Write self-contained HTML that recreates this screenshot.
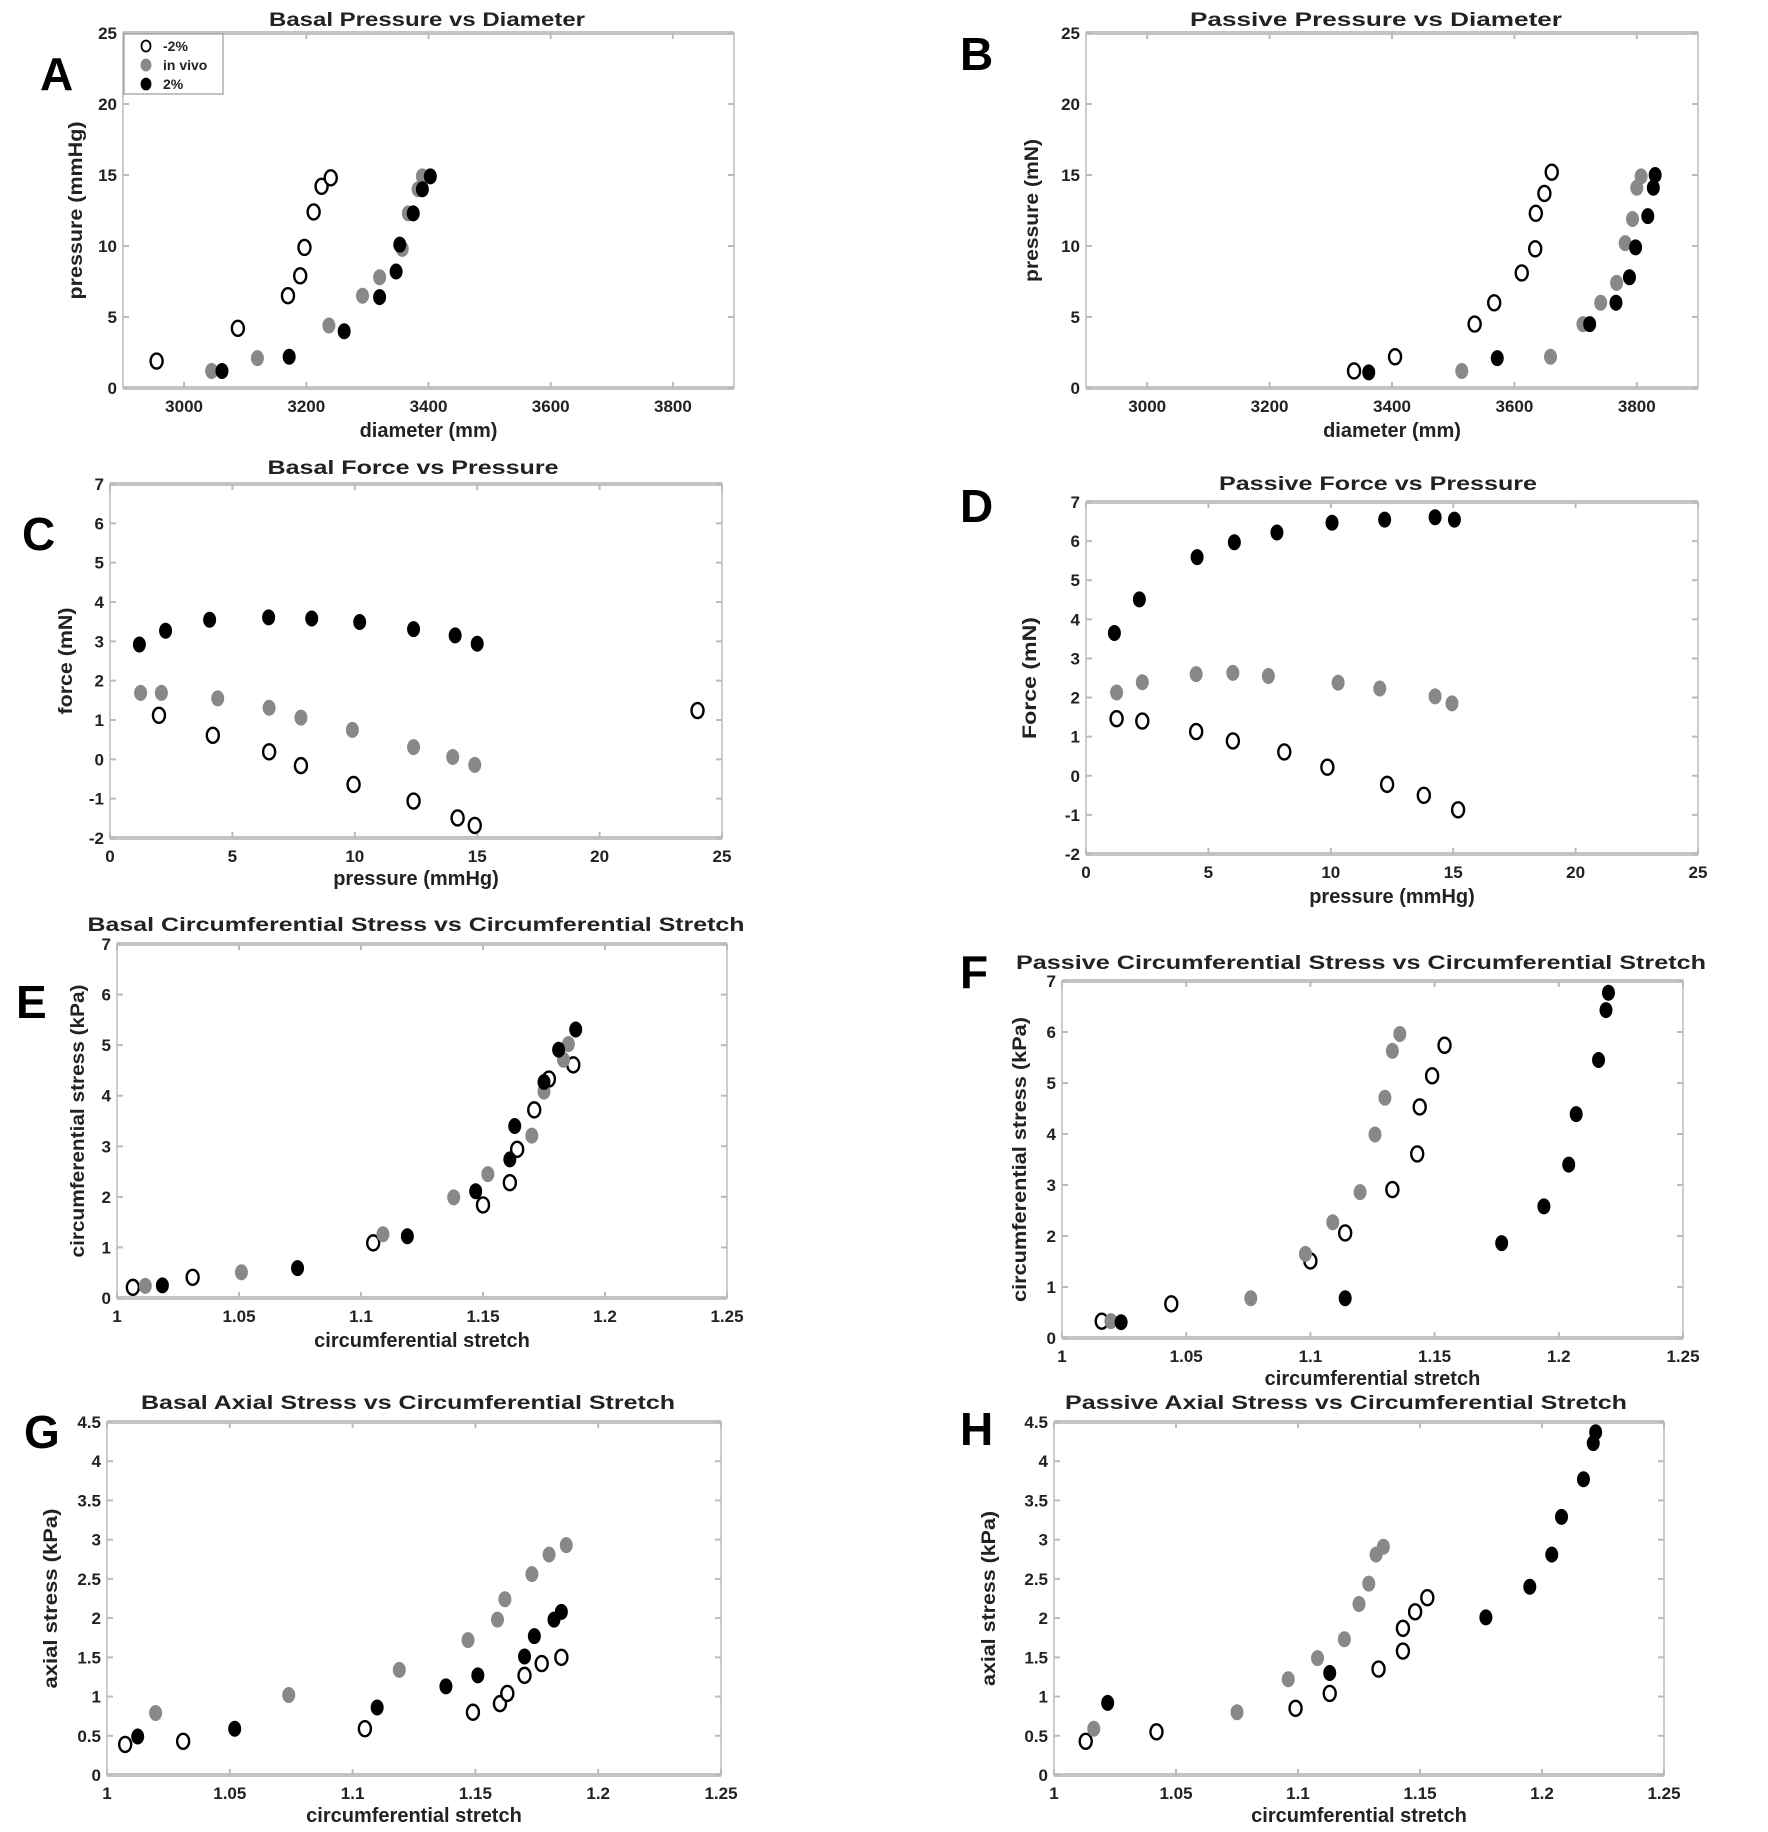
<!DOCTYPE html>
<html><head><meta charset="utf-8"><style>
html,body{margin:0;padding:0;background:#fff;}
svg{display:block;}
</style></head><body>
<svg id="fig" width="1768" height="1832" viewBox="0 0 1768 1832" xmlns="http://www.w3.org/2000/svg" font-family="Liberation Sans, sans-serif"></svg>
<script>
// ---- Data (series per panel) ----
const aOpenX=[2955,3088,3170,3190,3197,3212,3225,3240];
const aOpenY=[1.9,4.2,6.5,7.9,9.9,12.4,14.2,14.8];
const aGrayX=[3045,3120,3237,3292,3320,3357,3367,3383,3390];
const aGrayY=[1.2,2.1,4.4,6.5,7.8,9.8,12.3,14.0,14.9];
const aBlackX=[3062,3172,3262,3320,3347,3353,3375,3390,3403];
const aBlackY=[1.2,2.2,4.0,6.4,8.2,10.1,12.3,14.0,14.9];

const bOpenX=[3338,3405,3535,3567,3612,3634,3635,3649,3661];
const bOpenY=[1.2,2.2,4.5,6.0,8.1,9.8,12.3,13.7,15.2];
const bGrayX=[3514,3659,3712,3741,3767,3781,3793,3800,3807];
const bGrayY=[1.2,2.2,4.5,6.0,7.4,10.2,11.9,14.1,14.9];
const bBlackX=[3362,3572,3723,3766,3788,3798,3818,3827,3830];
const bBlackY=[1.1,2.1,4.5,6.0,7.8,9.9,12.1,14.1,15.0];

const cOpenX=[2.0,4.2,6.5,7.8,9.95,12.4,14.2,14.9,24.0];
const cOpenY=[1.12,0.61,0.19,-0.16,-0.64,-1.06,-1.49,-1.68,1.24];
const cGrayX=[1.25,2.1,4.4,6.5,7.8,9.9,12.4,14.0,14.9];
const cGrayY=[1.69,1.69,1.55,1.31,1.06,0.75,0.31,0.06,-0.14];
const cBlackX=[1.2,2.27,4.07,6.48,8.24,10.2,12.4,14.1,15.0];
const cBlackY=[2.92,3.27,3.55,3.61,3.58,3.49,3.31,3.15,2.94];

const dOpenX=[1.25,2.3,4.5,6.0,8.1,9.86,12.3,13.8,15.2];
const dOpenY=[1.46,1.40,1.13,0.89,0.61,0.22,-0.22,-0.50,-0.87];
const dGrayX=[1.25,2.3,4.5,6.0,7.45,10.3,12.0,14.26,14.95];
const dGrayY=[2.13,2.39,2.60,2.63,2.55,2.38,2.23,2.03,1.85];
const dBlackX=[1.16,2.18,4.54,6.06,7.8,10.05,12.2,14.26,15.05];
const dBlackY=[3.65,4.51,5.59,5.97,6.22,6.47,6.55,6.61,6.55];

const eOpenX=[1.0065,1.031,1.105,1.150,1.161,1.164,1.171,1.177,1.187];
const eOpenY=[0.21,0.41,1.09,1.84,2.28,2.94,3.72,4.33,4.61];
const eGrayX=[1.0116,1.051,1.109,1.138,1.152,1.170,1.175,1.183,1.185];
const eGrayY=[0.24,0.51,1.26,1.99,2.45,3.21,4.08,4.71,5.02];
const eBlackX=[1.0186,1.074,1.119,1.147,1.161,1.163,1.175,1.181,1.188];
const eBlackY=[0.25,0.59,1.22,2.11,2.74,3.40,4.27,4.91,5.31];

const fOpenX=[1.016,1.044,1.100,1.114,1.133,1.143,1.144,1.149,1.154];
const fOpenY=[0.33,0.67,1.51,2.06,2.91,3.61,4.53,5.14,5.74];
const fGrayX=[1.0197,1.076,1.098,1.109,1.120,1.126,1.130,1.133,1.136];
const fGrayY=[0.33,0.78,1.65,2.27,2.86,3.99,4.71,5.63,5.96];
const fBlackX=[1.0238,1.114,1.177,1.194,1.204,1.207,1.216,1.219,1.220];
const fBlackY=[0.31,0.78,1.86,2.58,3.40,4.39,5.45,6.43,6.77];

const gOpenX=[1.0074,1.031,1.105,1.149,1.160,1.163,1.170,1.177,1.185];
const gOpenY=[0.39,0.43,0.59,0.80,0.91,1.04,1.27,1.42,1.50];
const gGrayX=[1.0198,1.074,1.119,1.147,1.159,1.162,1.173,1.180,1.187];
const gGrayY=[0.79,1.02,1.34,1.72,1.98,2.24,2.56,2.81,2.93];
const gBlackX=[1.0125,1.052,1.110,1.138,1.151,1.170,1.174,1.182,1.185];
const gBlackY=[0.49,0.59,0.86,1.13,1.27,1.51,1.77,1.98,2.08];

const hOpenX=[1.013,1.042,1.099,1.113,1.133,1.143,1.143,1.148,1.153];
const hOpenY=[0.43,0.55,0.85,1.04,1.35,1.58,1.87,2.08,2.26];
const hGrayX=[1.0163,1.075,1.096,1.108,1.119,1.125,1.129,1.132,1.135];
const hGrayY=[0.59,0.80,1.22,1.49,1.73,2.18,2.44,2.81,2.91];
const hBlackX=[1.022,1.113,1.177,1.195,1.204,1.208,1.217,1.221,1.222];
const hBlackY=[0.92,1.30,2.01,2.40,2.81,3.29,3.77,4.23,4.37];

// tick label arrays
const diamTicks=["3000","3200","3400","3600","3800"];
const pressTicksY=["0","5","10","15","20","25"];
const pressTicksX=["0","5","10","15","20","25"];
const forceTicks=["-2","-1","0","1","2","3","4","5","6","7"];
const stressTicks=["0","1","2","3","4","5","6","7"];
const stretchTicks=["1","1.05","1.1","1.15","1.2","1.25"];
const axialTicks=["0","0.5","1","1.5","2","2.5","3","3.5","4","4.5"];

const NS="http://www.w3.org/2000/svg";
const svg=document.getElementById('fig');
function el(tag,attrs,parent){const e=document.createElementNS(NS,tag);for(const k in attrs)e.setAttribute(k,attrs[k]);(parent||svg).appendChild(e);return e;}

const panels=[
 {id:'a',L:123,R:734,T:33,B:388,xmin:2900,xmax:3900,ymin:0,ymax:25,xt:diamTicks,yt:pressTicksY,
  title:'Basal Pressure vs Diameter',tx:427,ty:26,tw:316,xl:'diameter (mm)',xly:437,yl:'pressure (mmHg)',ylx:76,ylw:178,
  letter:'A',lx:40,ly:90,s:[[aOpenX,aOpenY],[aGrayX,aGrayY],[aBlackX,aBlackY]],legend:true},
 {id:'b',L:1086,R:1698,T:33,B:388,xmin:2900,xmax:3900,ymin:0,ymax:25,xt:diamTicks,yt:pressTicksY,
  title:'Passive Pressure vs Diameter',tx:1376,ty:26,tw:372,xl:'diameter (mm)',xly:437,yl:'pressure (mN)',ylx:1032,ylw:143,
  letter:'B',lx:960,ly:70,s:[[bOpenX,bOpenY],[bGrayX,bGrayY],[bBlackX,bBlackY]]},
 {id:'c',L:110,R:722,T:484,B:838,xmin:0,xmax:25,ymin:-2,ymax:7,xt:pressTicksX,yt:forceTicks,
  title:'Basal Force vs Pressure',tx:413,ty:474,tw:291,xl:'pressure (mmHg)',xly:885,yl:'force (mN)',ylx:66,ylw:107,
  letter:'C',lx:22,ly:550,s:[[cOpenX,cOpenY],[cGrayX,cGrayY],[cBlackX,cBlackY]]},
 {id:'d',L:1086,R:1698,T:502,B:854,xmin:0,xmax:25,ymin:-2,ymax:7,xt:pressTicksX,yt:forceTicks,
  title:'Passive Force vs Pressure',tx:1378,ty:490,tw:318,xl:'pressure (mmHg)',xly:903,yl:'Force (mN)',ylx:1030,ylw:122,
  letter:'D',lx:960,ly:522,s:[[dOpenX,dOpenY],[dGrayX,dGrayY],[dBlackX,dBlackY]]},
 {id:'e',L:117,R:727,T:944,B:1298,xmin:1,xmax:1.25,ymin:0,ymax:7,xt:stretchTicks,yt:stressTicks,
  title:'Basal Circumferential Stress vs Circumferential Stretch',tx:416,ty:931,tw:657,xl:'circumferential stretch',xly:1347,yl:'circumferential stress (kPa)',ylx:78,ylw:273,
  letter:'E',lx:16,ly:1018,s:[[eOpenX,eOpenY],[eGrayX,eGrayY],[eBlackX,eBlackY]]},
 {id:'f',L:1062,R:1683,T:981,B:1338,xmin:1,xmax:1.25,ymin:0,ymax:7,xt:stretchTicks,yt:stressTicks,
  title:'Passive Circumferential Stress vs Circumferential Stretch',tx:1361,ty:969,tw:690,xl:'circumferential stretch',xly:1385,yl:'circumferential stress (kPa)',ylx:1020,ylw:285,
  letter:'F',lx:960,ly:988,s:[[fOpenX,fOpenY],[fGrayX,fGrayY],[fBlackX,fBlackY]]},
 {id:'g',L:107,R:721,T:1422,B:1775,xmin:1,xmax:1.25,ymin:0,ymax:4.5,xt:stretchTicks,yt:axialTicks,
  title:'Basal Axial Stress vs Circumferential Stretch',tx:408,ty:1409,tw:534,xl:'circumferential stretch',xly:1822,yl:'axial stress (kPa)',ylx:51,ylw:180,
  letter:'G',lx:24,ly:1448,s:[[gOpenX,gOpenY],[gGrayX,gGrayY],[gBlackX,gBlackY]]},
 {id:'h',L:1054,R:1664,T:1422,B:1775,xmin:1,xmax:1.25,ymin:0,ymax:4.5,xt:stretchTicks,yt:axialTicks,
  title:'Passive Axial Stress vs Circumferential Stretch',tx:1346,ty:1409,tw:562,xl:'circumferential stretch',xly:1822,yl:'axial stress (kPa)',ylx:989,ylw:175,
  letter:'H',lx:960,ly:1445,s:[[hOpenX,hOpenY],[hGrayX,hGrayY],[hBlackX,hBlackY]]}
];
const styles=[{fill:'#fff',stroke:'#000',sw:2.4},{fill:'#888',stroke:'#888',sw:1},{fill:'#000',stroke:'#000',sw:1}];
const seriesNames=['minus-2pct','in-vivo','plus-2pct'];

panels.forEach(p=>{
  const g=el('g',{});
  
  
  const xs=v=>p.L+(v-p.xmin)/(p.xmax-p.xmin)*(p.R-p.L);
  const ys=v=>p.B-(v-p.ymin)/(p.ymax-p.ymin)*(p.B-p.T);
  // frame
  const fr=el('rect',{x:p.L,y:p.T,width:p.R-p.L,height:p.B-p.T,fill:'none',stroke:'#bbb','stroke-width':1.5},g);
  
  
  el('line',{x1:p.L,x2:p.R,y1:p.T,y2:p.T,stroke:'#c4c4c4','stroke-width':4},g);
  el('line',{x1:p.L,x2:p.R,y1:p.B,y2:p.B,stroke:'#c4c4c4','stroke-width':4},g);
  // x ticks
  p.xt.forEach(t=>{
    const x=xs(parseFloat(t));
    el('line',{x1:x,x2:x,y1:p.B,y2:p.B-6,stroke:'#bbb','stroke-width':2},g);
    el('line',{x1:x,x2:x,y1:p.T,y2:p.T+6,stroke:'#bbb','stroke-width':2},g);
    const tx=el('text',{x:x,y:p.B+24,'text-anchor':'middle','font-size':17,'font-weight':'bold',fill:'#222'},g);
    tx.textContent=t;
    
    
  });
  p.yt.forEach(t=>{
    const y=ys(parseFloat(t));
    el('line',{x1:p.L,x2:p.L+6,y1:y,y2:y,stroke:'#bbb','stroke-width':2},g);
    el('line',{x1:p.R,x2:p.R-6,y1:y,y2:y,stroke:'#bbb','stroke-width':2},g);
    const ty=el('text',{x:p.L-6,y:y+6,'text-anchor':'end','font-size':17,'font-weight':'bold',fill:'#222'},g);
    ty.textContent=t;
    
    
  });
  const ti=el('text',{x:p.tx,y:p.ty,'text-anchor':'middle','font-size':19,'font-weight':'bold',fill:'#222',textLength:p.tw,lengthAdjust:'spacingAndGlyphs'},g);
  ti.textContent=p.title;
  
  
  const xl=el('text',{x:(p.L+p.R)/2,y:p.xly,'text-anchor':'middle','font-size':20,'font-weight':'bold',fill:'#222'},g);
  xl.textContent=p.xl;
  
  
  const cy=(p.T+p.B)/2;
  const yl=el('text',{x:p.ylx,y:cy,'text-anchor':'middle','font-size':19,'font-weight':'bold',fill:'#222',transform:'rotate(-90 '+p.ylx+' '+cy+')',textLength:p.ylw,lengthAdjust:'spacingAndGlyphs',dy:6},g);
  yl.textContent=p.yl;
  
  
  const lt=el('text',{x:p.lx,y:p.ly,'font-size':46,'font-weight':'bold',fill:'#000'},g);
  lt.textContent=p.letter;
  
  
  p.s.forEach((s,i)=>{
    const sg=el('g',{},g);
    
    
    s[0].forEach((xv,j)=>{
      const c=el('ellipse',{cx:xs(xv),cy:ys(s[1][j]),rx:6,ry:7.5,fill:styles[i].fill,stroke:styles[i].stroke,'stroke-width':styles[i].sw},sg);
      
      
    });
  });
  if(p.legend){
    const lg=el('g',{},g);
    
    
    el('rect',{x:124,y:34,width:99,height:60,fill:'#fff',stroke:'#999','stroke-width':1.2},lg);
    const labs=['-2%','in vivo','2%'];
    labs.forEach((t,i)=>{
      const y=46+i*19;
      const m=el('ellipse',{cx:146,cy:y,rx:4.5,ry:5.5,fill:styles[i].fill,stroke:styles[i].stroke,'stroke-width':1.8},lg);
      
      
      const tx=el('text',{x:163,y:y+5,'font-size':14,'font-weight':'bold',fill:'#222'},lg);
      tx.textContent=t;
      
      
    });
  }
});
</script>
</body></html>
